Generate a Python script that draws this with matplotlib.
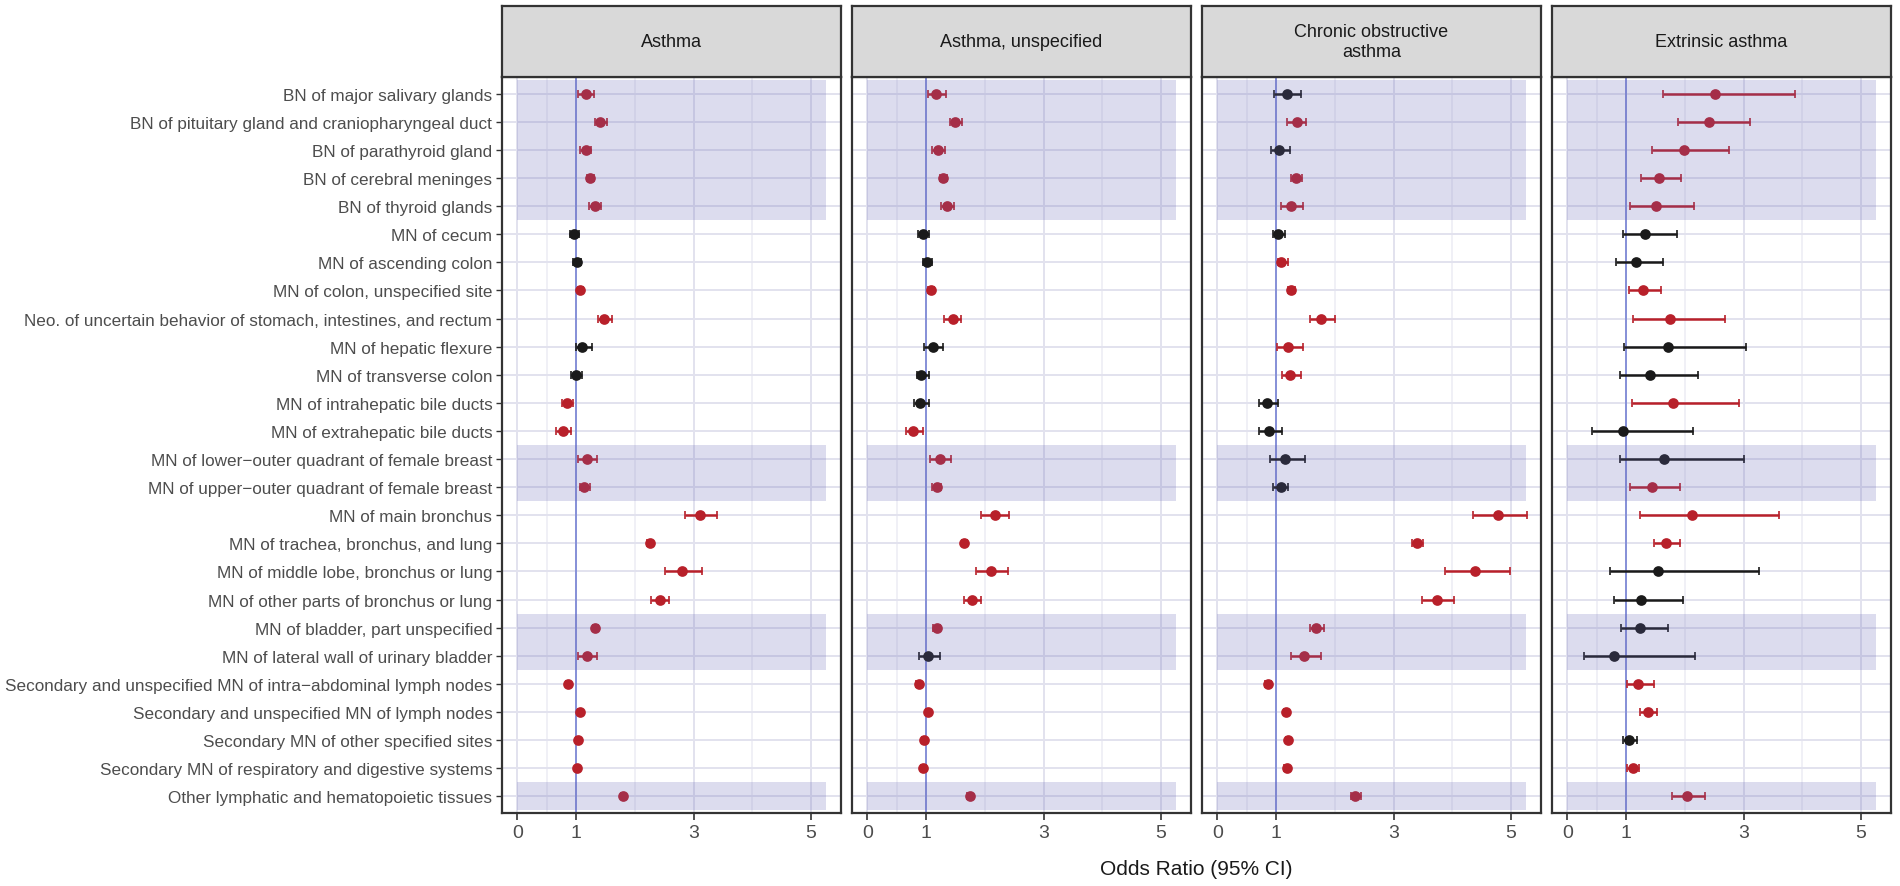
import numpy as np
import matplotlib
matplotlib.use("Agg")
import matplotlib.pyplot as plt

plt.rcParams['font.family'] = ['Liberation Sans', 'DejaVu Sans']

# row labels, top to bottom
labels = [
    "BN of major salivary glands",
    "BN of pituitary gland and craniopharyngeal duct",
    "BN of parathyroid gland",
    "BN of cerebral meninges",
    "BN of thyroid glands",
    "MN of cecum",
    "MN of ascending colon",
    "MN of colon, unspecified site",
    "Neo. of uncertain behavior of stomach, intestines, and rectum",
    "MN of hepatic flexure",
    "MN of transverse colon",
    "MN of intrahepatic bile ducts",
    "MN of extrahepatic bile ducts",
    "MN of lower\u2212outer quadrant of female breast",
    "MN of upper\u2212outer quadrant of female breast",
    "MN of main bronchus",
    "MN of trachea, bronchus, and lung",
    "MN of middle lobe, bronchus or lung",
    "MN of other parts of bronchus or lung",
    "MN of bladder, part unspecified",
    "MN of lateral wall of urinary bladder",
    "Secondary and unspecified MN of intra\u2212abdominal lymph nodes",
    "Secondary and unspecified MN of lymph nodes",
    "Secondary MN of other specified sites",
    "Secondary MN of respiratory and digestive systems",
    "Other lymphatic and hematopoietic tissues",
]

panel_titles = ["Asthma", "Asthma, unspecified", "Chronic obstructive\nasthma", "Extrinsic asthma"]

# odds ratios and 95% CI per outcome
asthma_or = [1.165, 1.41, 1.16, 1.24, 1.32, 0.97, 1.01, 1.07, 1.48, 1.10, 1.00, 0.85, 0.78,
             1.19, 1.14, 3.11, 2.26, 2.81, 2.43, 1.33, 1.19, 0.86, 1.06, 1.03, 1.02, 1.80]
asthma_lo = [1.03, 1.33, 1.06, 1.19, 1.22, 0.90, 0.94, 1.03, 1.37, 0.99, 0.91, 0.76, 0.66,
             1.03, 1.06, 2.86, 2.21, 2.52, 2.27, 1.28, 1.03, 0.82, 1.03, 1.005, 1.005, 1.76]
asthma_hi = [1.31, 1.52, 1.26, 1.30, 1.43, 1.05, 1.09, 1.12, 1.61, 1.27, 1.10, 0.95, 0.91,
             1.36, 1.23, 3.40, 2.30, 3.14, 2.58, 1.38, 1.36, 0.89, 1.10, 1.06, 1.04, 1.84]

unspec_or = [1.17, 1.50, 1.21, 1.29, 1.36, 0.95, 1.01, 1.08, 1.45, 1.11, 0.92, 0.90, 0.78,
             1.23, 1.18, 2.17, 1.65, 2.11, 1.78, 1.18, 1.03, 0.875, 1.03, 0.96, 0.955, 1.74]
unspec_lo = [1.03, 1.40, 1.10, 1.23, 1.25, 0.87, 0.94, 1.03, 1.31, 0.97, 0.84, 0.79, 0.66,
             1.06, 1.10, 1.94, 1.61, 1.85, 1.64, 1.12, 0.88, 0.83, 1.005, 0.93, 0.92, 1.70]
unspec_hi = [1.34, 1.61, 1.33, 1.35, 1.48, 1.05, 1.10, 1.13, 1.60, 1.28, 1.05, 1.05, 0.94,
             1.43, 1.26, 2.42, 1.70, 2.40, 1.93, 1.24, 1.23, 0.92, 1.07, 0.995, 0.99, 1.79]

copd_or = [1.18, 1.35, 1.05, 1.34, 1.25, 1.03, 1.09, 1.26, 1.77, 1.21, 1.24, 0.85, 0.88,
           1.15, 1.08, 4.78, 3.40, 4.39, 3.74, 1.68, 1.48, 0.86, 1.16, 1.20, 1.18, 2.35]
copd_lo = [0.97, 1.18, 0.91, 1.25, 1.08, 0.94, 1.03, 1.20, 1.57, 1.02, 1.10, 0.70, 0.70,
           0.90, 0.95, 4.35, 3.32, 3.88, 3.49, 1.58, 1.26, 0.81, 1.13, 1.16, 1.14, 2.27]
copd_hi = [1.43, 1.51, 1.23, 1.44, 1.45, 1.15, 1.20, 1.32, 2.01, 1.45, 1.43, 1.03, 1.10,
           1.49, 1.20, 5.27, 3.50, 4.99, 4.03, 1.81, 1.76, 0.91, 1.20, 1.23, 1.21, 2.44]

extr_or = [2.51, 2.42, 1.98, 1.56, 1.51, 1.32, 1.16, 1.29, 1.74, 1.71, 1.40, 1.80, 0.94,
           1.64, 1.44, 2.12, 1.68, 1.54, 1.26, 1.24, 0.80, 1.21, 1.37, 1.05, 1.11, 2.04]
extr_lo = [1.63, 1.89, 1.44, 1.26, 1.06, 0.94, 0.83, 1.05, 1.12, 0.96, 0.89, 1.10, 0.42,
           0.90, 1.06, 1.24, 1.47, 0.72, 0.80, 0.91, 0.28, 1.02, 1.23, 0.94, 1.02, 1.79]
extr_hi = [3.88, 3.11, 2.75, 1.94, 2.15, 1.86, 1.63, 1.59, 2.69, 3.04, 2.22, 2.92, 2.14,
           3.00, 1.92, 3.61, 1.92, 3.27, 1.97, 1.71, 2.17, 1.48, 1.53, 1.18, 1.22, 2.34]

panel_data = [
    (asthma_or, asthma_lo, asthma_hi),
    (unspec_or, unspec_lo, unspec_hi),
    (copd_or, copd_lo, copd_hi),
    (extr_or, extr_lo, extr_hi),
]

# highlighted row groups (1-based, top to bottom)
shaded_groups = [(1, 5), (14, 15), (20, 21), (26, 26)]
shade_xmax = 5.25

RED = "#B8202A"
BLACK = "#1A1A1A"

W, H = 1900, 887
fig = plt.figure(figsize=(W / 100, H / 100), dpi=100)

panel_left = [502, 852, 1202, 1552]
panel_w = 339
top, bottom, strip_top = 78, 814, 7

n = len(labels)
ypos = np.arange(1, n + 1)

for i, (title, (orv, lo, hi)) in enumerate(zip(panel_titles, panel_data)):
    x0 = panel_left[i] / W
    ax = fig.add_axes([x0, 1 - bottom / H, panel_w / W, (bottom - top) / H])
    sax = fig.add_axes([x0, 1 - top / H, panel_w / W, (top - strip_top) / H])

    orv, lo, hi = np.array(orv), np.array(lo), np.array(hi)
    sig = (lo > 1) | (hi < 1)

    # grid
    for x in [0, 1, 3, 5]:
        ax.axvline(x, color="#E2E2EE", lw=1.4, zorder=0)
    for x in [0.5, 2, 4]:
        ax.axvline(x, color="#ECECF4", lw=1.1, zorder=0)
    for y in ypos:
        ax.axhline(y, color="#E2E2EE", lw=1.4, zorder=0)

    ax.axvline(1, color="#7F8AD6", lw=1.3, zorder=1)

    for s, col in [(False, BLACK), (True, RED)]:
        m = sig == s
        ax.errorbar(orv[m], ypos[m], xerr=[orv[m] - lo[m], hi[m] - orv[m]], fmt="o",
                    color=col, ecolor=col, elinewidth=1.8, capsize=3, capthick=1.8,
                    markersize=6.5, markerfacecolor=col, markeredgecolor=col,
                    markeredgewidth=1.2, zorder=3)

    for a, b in shaded_groups:
        ax.fill_between([0, shade_xmax], a - 0.5, b + 0.5, color="#6464B4",
                        alpha=0.22, lw=0, zorder=4)

    ax.set_xlim(-0.2625, 5.5125)
    ax.set_ylim(n + 0.6, 0.4)
    ax.set_xticks([0, 1, 3, 5])
    ax.set_xticklabels(["0", "1", "3", "5"])
    ax.tick_params(axis="x", length=5, width=1.2, color="#333333", labelsize=14,
                   labelcolor="#4D4D4D", pad=3)
    ax.set_yticks(ypos)
    if i == 0:
        ax.set_yticklabels(labels)
        ax.tick_params(axis="y", length=4, width=1.0, color="#333333", labelsize=12.3,
                       labelcolor="#4D4D4D", pad=3)
    else:
        ax.set_yticklabels([])
        ax.tick_params(axis="y", length=0)
    for sp in ax.spines.values():
        sp.set_color("#333333")
        sp.set_linewidth(1.6)

    sax.set_facecolor("#D9D9D9")
    sax.set_xticks([])
    sax.set_yticks([])
    for sp in sax.spines.values():
        sp.set_color("#333333")
        sp.set_linewidth(1.6)
    sax.text(0.5, 0.5, title, ha="center", va="center", fontsize=13,
             color="#1A1A1A", transform=sax.transAxes, linespacing=1.3)

fig.text((panel_left[0] + panel_left[-1] + panel_w) / 2 / W, 1 - 870 / H,
         "Odds Ratio (95% CI)", ha="center", va="center", fontsize=15, color="#1A1A1A")

fig.savefig("out.png", dpi=100, facecolor="white")
